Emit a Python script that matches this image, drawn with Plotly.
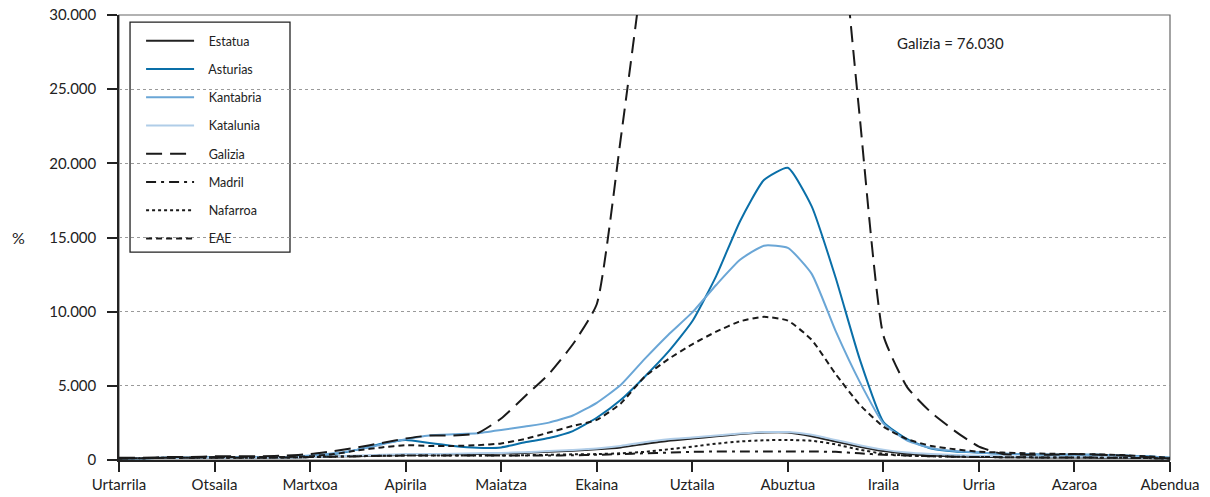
import plotly.graph_objects as go

months = ["Urtarrila", "Otsaila", "Martxoa", "Apirila", "Maiatza", "Ekaina",
          "Uztaila", "Abuztua", "Iraila", "Urria", "Azaroa", "Abendua"]

# x positions in months (0 = Urtarrila), quarter-month steps
x = [i * 0.25 for i in range(45)]

estatua = [100, 120, 150, 150, 150, 150, 150, 150, 200, 230, 260, 300,
           350, 370, 390, 410, 440, 480, 550, 620, 720, 850, 1080, 1300,
           1450, 1600, 1750, 1850, 1850, 1600, 1250, 900, 600, 420, 300, 240,
           200, 190, 180, 170, 170, 160, 150, 130, 100]
asturias = [100, 120, 150, 150, 200, 200, 200, 200, 250, 400, 700, 1100,
            1350, 1150, 950, 830, 850, 1200, 1480, 1950, 2850, 4040, 5600, 7300,
            9350, 12400, 16100, 18870, 19700, 17100, 12300, 6850, 2580, 1400, 770, 570,
            500, 420, 380, 350, 350, 350, 300, 250, 150]
kantabria = [100, 120, 150, 150, 200, 200, 200, 200, 300, 450, 700, 1050,
             1400, 1650, 1730, 1800, 2020, 2260, 2520, 3000, 3850, 5050, 6800, 8450,
             9950, 11800, 13500, 14450, 14300, 12550, 8700, 5300, 2470, 1300, 800, 600,
             500, 420, 380, 350, 350, 350, 300, 250, 150]
katalunia = [100, 120, 150, 150, 150, 150, 150, 150, 200, 250, 300, 350,
             400, 400, 420, 450, 480, 520, 600, 680, 780, 950, 1200, 1400,
             1520, 1650, 1780, 1880, 1880, 1700, 1350, 1000, 700, 500, 400, 330,
             280, 250, 230, 220, 220, 200, 180, 150, 100]
galizia = [150, 150, 200, 200, 250, 250, 250, 300, 400, 600, 850, 1150,
           1450, 1650, 1650, 1800, 2800, 4300, 5800, 7800, 10500, 21600, 34000, 48000,
           62000, 72000, 76030, 74000, 66000, 54000, 40000, 23300, 8400, 4900, 3200, 1950,
           900, 400, 350, 350, 400, 350, 300, 200, 100]
madril = [100, 120, 150, 150, 150, 150, 150, 170, 200, 220, 250, 280,
          300, 300, 300, 300, 300, 300, 300, 320, 350, 400, 450, 500,
          550, 570, 580, 580, 580, 570, 550, 450, 350, 300, 250, 220,
          200, 190, 180, 170, 170, 160, 150, 130, 100]
nafarroa = [100, 120, 150, 150, 150, 150, 150, 170, 200, 230, 260, 280,
            300, 300, 300, 300, 300, 320, 350, 380, 400, 450, 550, 720,
            900, 1100, 1250, 1330, 1350, 1300, 1050, 700, 420, 300, 250, 220,
            200, 190, 180, 170, 170, 160, 150, 130, 100]
eae = [100, 120, 150, 150, 200, 200, 200, 200, 250, 400, 650, 850,
       1000, 950, 950, 1000, 1120, 1420, 1850, 2300, 2700, 3800, 5600, 6800,
       7800, 8650, 9350, 9650, 9400, 8100, 5800, 3750, 2250, 1400, 950, 720,
       560, 500, 450, 420, 400, 380, 330, 250, 150]

series = [
    ("Estatua", estatua, "#222222", "solid"),
    ("Asturias", asturias, "#0A6FA8", "solid"),
    ("Kantabria", kantabria, "#6AA6D6", "solid"),
    ("Katalunia", katalunia, "#B0CDE8", "solid"),
    ("Galizia", galizia, "#1a1a1a", "16px,8px"),
    ("Madril", madril, "#1a1a1a", "10px,5px,3px,5px"),
    ("Nafarroa", nafarroa, "#1a1a1a", "dot"),
    ("EAE", eae, "#1a1a1a", "6px,4px"),
]

pad = "\u00a0\u00a0\u00a0"
fig = go.Figure()
for i, (name, vals, color, dash) in enumerate(series):
    fig.add_trace(go.Scatter(
        x=x, y=vals, name=pad + name, mode="lines", legendgroup=name,
        line=dict(color=color, width=2, dash=dash, shape="spline", smoothing=0.5),
    ))

fig.update_layout(
    width=1210, height=497,
    margin=dict(l=119, r=40, t=15, b=37),
    paper_bgcolor="white", plot_bgcolor="white",
    separators=",.",
    font=dict(family="Lato, 'Open Sans', sans-serif", size=15, color="#222"),
    showlegend=True,
    legend=dict(x=0.021, y=0.975, xanchor="left", yanchor="top",
                borderwidth=0, bgcolor="rgba(0,0,0,0)",
                font=dict(size=12.5), tracegroupgap=9,
                itemwidth=48),
    shapes=[
        dict(type="rect", xref="paper", yref="paper", x0=0, x1=1, y0=0, y1=1,
             line=dict(color="#666", width=1.2), layer="below"),
        dict(type="rect", xref="paper", yref="paper", x0=0.0105, x1=0.1627,
             y0=0.467, y1=0.984, line=dict(color="#222", width=1.3),
             fillcolor="white", layer="below"),
    ],
    annotations=[
        dict(text="Galizia = 76.030", x=0.738, y=0.937, xref="paper", yref="paper",
             xanchor="left", yanchor="middle", showarrow=False, font=dict(size=15)),
        dict(text="%", x=-0.096, y=0.501, xref="paper", yref="paper",
             xanchor="center", yanchor="middle", showarrow=False, font=dict(size=16)),
    ],
)
fig.update_xaxes(
    range=[0, 11], tickvals=list(range(12)), ticktext=months,
    showgrid=False, zeroline=False, showline=True, linecolor="#222", linewidth=1.5,
    ticks="outside", ticklen=10, tickcolor="#222", tickwidth=1.5,
    tickfont=dict(size=15), ticklabeloverflow="allow", automargin=False,
)
fig.update_yaxes(
    range=[0, 30000], tickvals=[0, 5000, 10000, 15000, 20000, 25000, 30000],
    tickformat=",d",
    showgrid=True, gridcolor="#9a9a9a", griddash="dot", gridwidth=1,
    zeroline=False, showline=True, linecolor="#222", linewidth=1.5,
    ticks="outside", ticklen=10, tickcolor="#222", tickwidth=1.5,
    tickfont=dict(size=15), ticklabeloverflow="allow", ticklabelstandoff=8,
    automargin=False,
)
fig.write_html("out.html",
               config={"displayModeBar": False},
               post_script="document.body.style.margin='0px';document.body.style.overflow='hidden';")
